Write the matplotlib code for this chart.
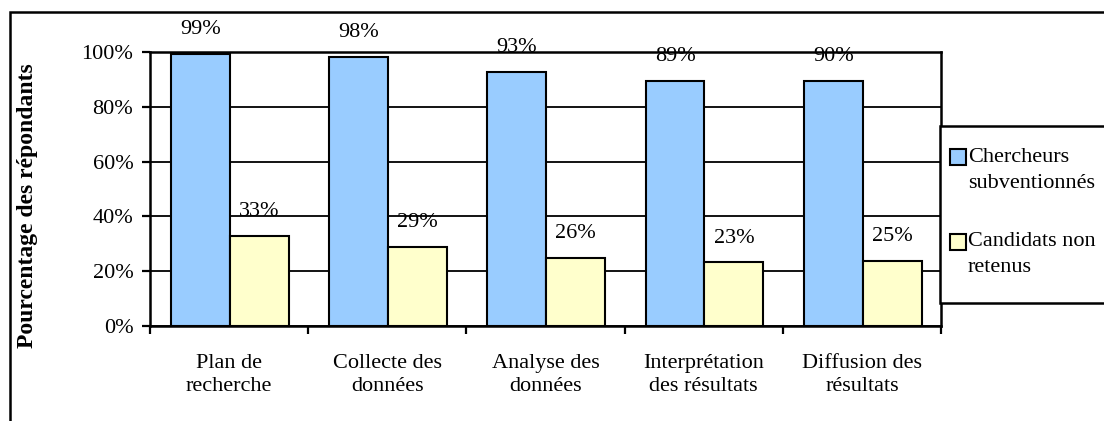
import matplotlib.pyplot as plt
from matplotlib.patches import Rectangle

categories = ['Plan de\nrecherche', 'Collecte des\ndonnées', 'Analyse des\ndonnées',
              'Interprétation\ndes résultats', 'Diffusion des\nrésultats']
chercheurs = [99.4, 98.3, 92.6, 89.4, 89.4]
candidats = [32.8, 28.8, 24.8, 23.2, 23.8]
lab_chercheurs = ['99%', '98%', '93%', '89%', '90%']
lab_candidats = ['33%', '29%', '26%', '23%', '25%']
yticks = [0, 20, 40, 60, 80, 100]

W, H = 1104, 421
plt.rcParams['font.family'] = ['Liberation Serif', 'DejaVu Serif']
FS = 16

def fx(x):
    return x / W

def fy(y):
    return 1 - y / H

fig = plt.figure(figsize=(W / 100, H / 100), dpi=100)
ax = fig.add_axes([fx(150), fy(326), fx(941) - fx(150), fy(52) - fy(326)])

blue = '#99CCFF'
yellow = '#FFFFCC'
bw = 0.372
x = list(range(len(categories)))
b1 = ax.bar([i - bw / 2 + 0.005 for i in x], chercheurs, bw, color=blue, edgecolor='black', linewidth=1.5, zorder=3)
b2 = ax.bar([i + bw / 2 + 0.005 for i in x], candidats, bw, color=yellow, edgecolor='black', linewidth=1.5, zorder=3)

for rects, labs in ((b1, lab_chercheurs), (b2, lab_candidats)):
    for r, t in zip(rects, labs):
        ax.annotate(t, (r.get_x() + r.get_width() / 2, r.get_height()), xytext=(0, 17.5),
                    textcoords='offset points', ha='center', va='center', fontsize=FS, zorder=5,
                    annotation_clip=False)

ax.set_xlim(-0.5, len(categories) - 0.5)
ax.set_ylim(0, 100)
ax.set_yticks(yticks)
ax.set_yticklabels(['%d%%' % v for v in yticks], fontsize=FS)
ax.set_xticks([i - 0.5 for i in range(len(categories) + 1)])
ax.set_xticklabels([])
ax.set_xticks(x, minor=True)
ax.set_xticklabels(categories, minor=True, fontsize=FS, linespacing=1.3)
ax.tick_params(axis='x', which='major', length=6, width=1.6, direction='out')
ax.tick_params(axis='x', which='minor', length=0, pad=20)
ax.tick_params(axis='y', length=6, width=1.6, direction='out', pad=6)
ax.grid(axis='y', color='black', linewidth=1.3, zorder=0)
for s in ax.spines.values():
    s.set_linewidth(1.8)
    s.set_zorder(4)

fig.text(fx(28), fy(206), 'Pourcentage des répondants', rotation=90, ha='center', va='center',
         fontsize=17, fontweight='bold')

# outer frame
fig.add_artist(Rectangle((fx(10), fy(430)), fx(1110) - fx(10), fy(12) - fy(430),
                         transform=fig.transFigure, fill=False, edgecolor='black', linewidth=1.8))

# legend
fig.add_artist(Rectangle((fx(940), fy(303)), fx(1120) - fx(940), fy(126) - fy(303),
                         transform=fig.transFigure, facecolor='white', edgecolor='black',
                         linewidth=1.8, zorder=6))
leg = [(blue, ['Chercheurs', 'subventionnés'], 157), (yellow, ['Candidats non', 'retenus'], 242)]
for col, lines, yc in leg:
    fig.add_artist(Rectangle((fx(950), fy(yc + 8)), fx(16), 16 / H, transform=fig.transFigure,
                             facecolor=col, edgecolor='black', linewidth=1.5, zorder=7))
    for k, t in enumerate(lines):
        fig.text(fx(968), fy(yc + 26 * k), t, ha='left', va='center', fontsize=FS, zorder=7)

fig.savefig('out.png', dpi=100)
